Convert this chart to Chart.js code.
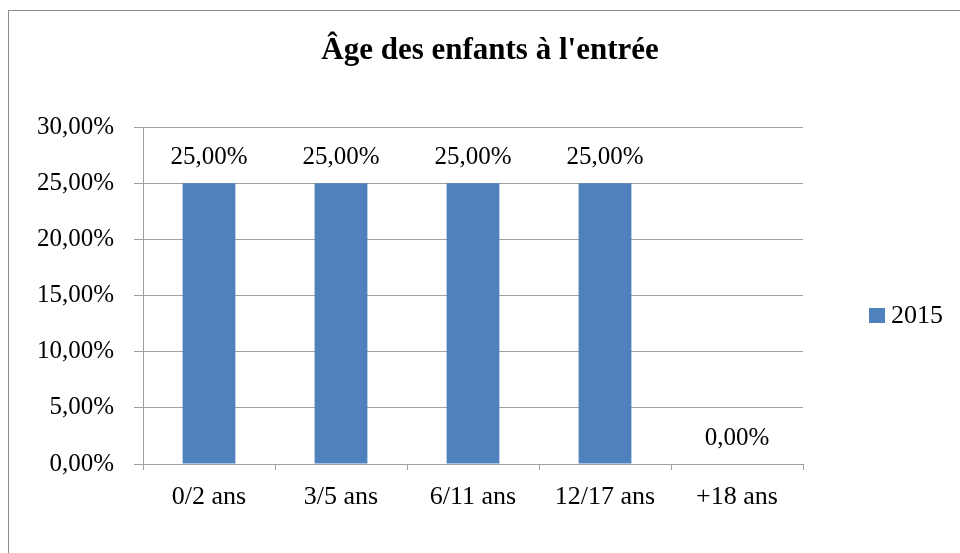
<!DOCTYPE html>
<html>
<head>
<meta charset="utf-8">
<script src="https://cdn.jsdelivr.net/npm/chart.js@4/dist/chart.umd.min.js"></script>
<style>
  html, body { margin: 0; padding: 0; background: #fff; }
  #wrap { width: 960px; height: 553px; position: relative; }
</style>
</head>
<body>
<div id="wrap"><canvas id="c" width="960" height="553"></canvas></div>
<script>
const TITLE = "Âge des enfants à l'entrée";
const categories = ["0/2 ans", "3/5 ans", "6/11 ans", "12/17 ans", "+18 ans"];
const seriesLabel = "2015";
const values2015 = [25, 25, 25, 25, 0];
const yTicksMax = 30;
const yTicksStep = 5;

const FONT = "'Liberation Serif', 'Times New Roman', serif";
const BAR_COLOR = '#4F81BD';
const GRID = '#A0A0A0';

function fmt(v) { return v.toFixed(2).replace('.', ',') + '%'; }

const decor = {
  id: 'decor',
  afterDatasetsDraw(chart) {
    const ctx = chart.ctx;
    const meta = chart.getDatasetMeta(0);
    const ds = chart.data.datasets[0];
    ctx.save();
    ctx.fillStyle = '#000';
    ctx.font = '25px ' + FONT;
    ctx.textAlign = 'center';
    ctx.textBaseline = 'alphabetic';
    meta.data.forEach((bar, i) => {
      ctx.fillText(fmt(ds.data[i]), bar.x, bar.y - 19);
    });
    ctx.restore();
  },
  afterDraw(chart) {
    const ctx = chart.ctx;
    ctx.save();
    // outer border
    ctx.strokeStyle = '#8C8C8C';
    ctx.lineWidth = 1;
    ctx.strokeRect(8.5, 10.5, 2000, 2000);
    // title
    ctx.fillStyle = '#000';
    ctx.font = 'bold 31px ' + FONT;
    ctx.textAlign = 'center';
    ctx.textBaseline = 'alphabetic';
    ctx.fillText(TITLE, 490, 59);
    // legend
    const ds = chart.data.datasets[0];
    ctx.fillStyle = ds.backgroundColor;
    ctx.fillRect(869, 308, 16, 15);
    ctx.fillStyle = '#000';
    ctx.font = '26px ' + FONT;
    ctx.textAlign = 'left';
    ctx.textBaseline = 'middle';
    ctx.fillText(ds.label, 891, 316);
    ctx.restore();
  }
};

new Chart(document.getElementById('c'), {
  type: 'bar',
  data: {
    labels: categories,
    datasets: [{
      label: seriesLabel,
      data: values2015,
      backgroundColor: BAR_COLOR,
      borderWidth: 0,
      barPercentage: 0.4,
      categoryPercentage: 1.0
    }]
  },
  options: {
    responsive: false,
    animation: false,
    layout: { padding: { top: 127, left: 0, right: 157, bottom: 0 } },
    plugins: {
      legend: { display: false },
      title: { display: false },
      tooltip: { enabled: false }
    },
    scales: {
      x: {
        offset: true,
        grid: { offset: true, drawOnChartArea: false, drawTicks: true, tickLength: 6, color: GRID, lineWidth: 1 },
        border: { display: true, color: GRID, width: 1 },
        ticks: { color: '#000', font: { family: FONT, size: 26 }, padding: 12, maxRotation: 0 },
        afterFit(scale) { scale.height = 89; }
      },
      y: {
        min: 0,
        max: yTicksMax,
        ticks: {
          stepSize: yTicksStep,
          color: '#000',
          font: { family: FONT, size: 25 },
          padding: 20,
          callback: (v) => fmt(v)
        },
        grid: { color: GRID, lineWidth: 1, tickLength: 9, drawTicks: true },
        border: { display: true, color: GRID, width: 1 },
        afterFit(scale) { scale.width = 143; }
      }
    }
  },
  plugins: [decor]
});
</script>
</body>
</html>
